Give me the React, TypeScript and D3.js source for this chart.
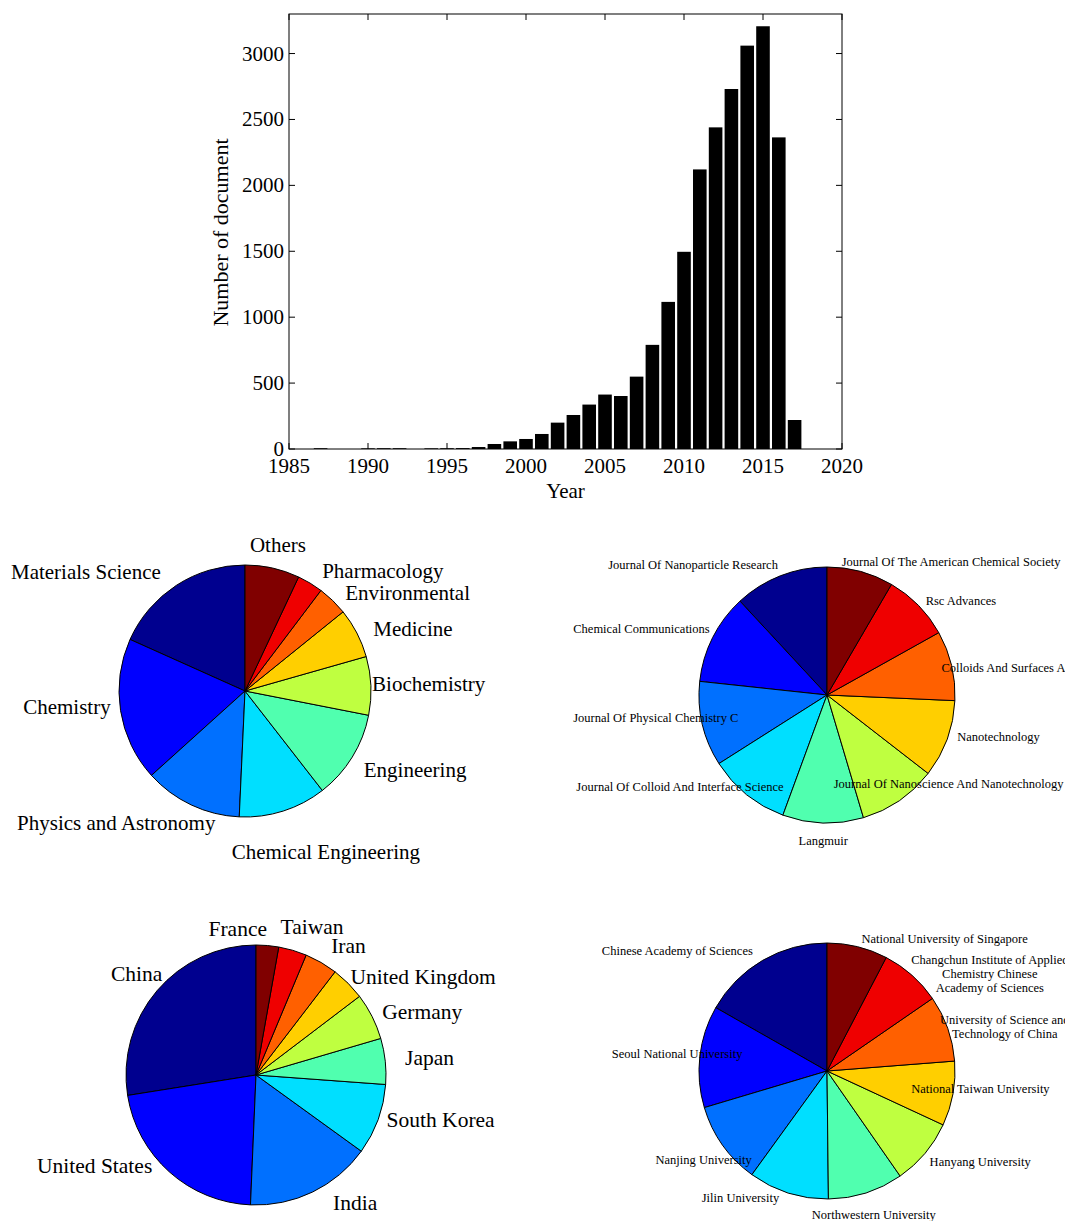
import React from "react";
import * as d3 from "d3";

// documents per year
const years = [1986, 1987, 1988, 1989, 1990, 1991, 1992, 1993, 1994, 1995, 1996, 1997, 1998, 1999, 2000, 2001,
  2002, 2003, 2004, 2005, 2006, 2007, 2008, 2009, 2010, 2011, 2012, 2013, 2014, 2015, 2016, 2017];
const docs = [0, 6, 0, 0, 5, 6, 6, 0, 5, 6, 7, 15, 38, 58, 76, 114,
  200, 258, 337, 413, 402, 549, 790, 1116, 1496, 2121, 2440, 2731, 3060, 3207, 2364, 220];
const xTicks = [1985, 1990, 1995, 2000, 2005, 2010, 2015, 2020];
const yTicks = [0, 500, 1000, 1500, 2000, 2500, 3000];

// subject areas (%)
const subjects = ["Materials Science", "Chemistry", "Physics and Astronomy", "Chemical Engineering", "Engineering",
  "Biochemistry", "Medicine", "Environmental", "Pharmacology", "Others"];
const subjectShare = [18.3, 18.4, 12.6, 11.25, 11.4, 7.5, 6.4, 3.9, 3.3, 7.0];

// journals (%)
const journals = ["Journal Of Nanoparticle Research", "Chemical Communications", "Journal Of Physical Chemistry C",
  "Journal Of Colloid And Interface Science", "Langmuir", "Journal Of Nanoscience And Nanotechnology",
  "Nanotechnology", "Colloids And Surfaces A", "Rsc Advances", "Journal Of The American Chemical Society"];
const journalShare = [11.9, 11.4, 10.7, 10.4, 10.2, 9.9, 9.8, 8.8, 8.5, 8.4];

// countries (%)
const countries = ["China", "United States", "India", "South Korea", "Japan", "Germany", "United Kingdom",
  "Iran", "Taiwan", "France"];
const countryShare = [27.5, 21.8, 15.7, 8.8, 5.7, 5.8, 4.25, 4.1, 3.5, 2.8];

// institutions (%)
const institutions = ["Chinese Academy of Sciences", "Seoul National University", "Nanjing University",
  "Jilin University", "Northwestern University", "Hanyang University", "National Taiwan University",
  "University of Science and\nTechnology of China", "Changchun Institute of Applied\nChemistry Chinese\nAcademy of Sciences",
  "National University of Singapore"];
const institutionShare = [16.75, 12.85, 10.4, 10.15, 9.5, 8.4, 8.15, 8.35, 7.75, 7.65];

const jet = ["#00008f", "#0000ff", "#0070ff", "#00dfff", "#50ffaf", "#bfff40", "#ffcf00", "#ff6000", "#ef0000", "#800000"];

const FONT = "'Liberation Serif', 'Times New Roman', serif";

// hand placement tweaks for pie labels (like dragged labels in the original)
const nudges1: Record<string, [number, number]> = {
  "Others": [0, 2], "Pharmacology": [-1, 9], "Environmental": [-5, 11], "Medicine": [-6, 8],
  "Biochemistry": [-24, -1], "Engineering": [-10, 0], "Chemical Engineering": [35, 17],
  "Physics and Astronomy": [35, -5], "Chemistry": [15, -8], "Materials Science": [-2, 8],
};
const nudges2: Record<string, [number, number]> = {
  "Journal Of The American Chemical Society": [84, 15], "Rsc Advances": [-11, 14], "Colloids And Surfaces A": [-35, 8],
  "Nanotechnology": [-14, -11], "Journal Of Nanoscience And Nanotechnology": [-80, -38], "Langmuir": [1, -8],
  "Journal Of Colloid And Interface Science": [53, -28], "Journal Of Physical Chemistry C": [61, -12],
  "Chemical Communications": [20, 3], "Journal Of Nanoparticle Research": [7, 13],
};
const nudges3: Record<string, [number, number]> = {
  "France": [-32, 9], "Taiwan": [12, 2], "Iran": [-3, 6], "United Kingdom": [-16, 12], "Germany": [-13, 7],
  "Japan": [-6, 0], "South Korea": [-16, -8], "India": [9, -12], "United States": [0, -25], "China": [25, 0],
};
const nudges4: Record<string, [number, number]> = {
  "National University of Singapore": [81, 17], "Changchun Institute of Applied": [61, 18],
  "University of Science and": [33, 7], "National Taiwan University": [-67, -9], "Hanyang University": [-15, -8],
  "Northwestern University": [0, -2], "Jilin University": [-40, -19], "Nanjing University": [50, 0],
  "Seoul National University": [68, 0], "Chinese Academy of Sciences": [3, 13],
};

function BarChart() {
  const left = 289, right = 842, top = 14, bottom = 449;
  const x = d3.scaleLinear().domain([1985, 2020]).range([left, right]);
  const y = d3.scaleLinear().domain([0, 3300]).range([bottom, top]);
  const bw = (x(1986) - x(1985)) * 0.86;
  const tk = 6;
  const fs = 21;
  return (
    <g fontFamily={FONT}>
      {years.map((yr, i) => (
        docs[i] > 0 ? <rect key={yr} x={x(yr) - bw / 2} y={y(docs[i])} width={bw} height={bottom - y(docs[i])} fill="#000" /> : null
      ))}
      <rect x={left} y={top} width={right - left} height={bottom - top} fill="none" stroke="#000" strokeWidth={1} />
      {xTicks.map((t) => (
        <g key={"x" + t}>
          <line x1={x(t)} x2={x(t)} y1={bottom} y2={bottom - tk} stroke="#000" />
          <line x1={x(t)} x2={x(t)} y1={top} y2={top + tk} stroke="#000" />
          <text x={x(t)} y={bottom + 17} textAnchor="middle" dominantBaseline="central" fontSize={fs}>{t}</text>
        </g>
      ))}
      {yTicks.map((t) => (
        <g key={"y" + t}>
          <line x1={left} x2={left + tk} y1={y(t)} y2={y(t)} stroke="#000" />
          <line x1={right} x2={right - tk} y1={y(t)} y2={y(t)} stroke="#000" />
          <text x={left - 5} y={y(t)} textAnchor="end" dominantBaseline="central" fontSize={fs}>{t}</text>
        </g>
      ))}
      <text x={(left + right) / 2} y={491} textAnchor="middle" dominantBaseline="central" fontSize={fs}>Year</text>
      <text transform={`translate(220,${(top + bottom) / 2 + 1}) rotate(-90)`} textAnchor="middle" dominantBaseline="central" fontSize={fs + 1}>
        Number of document
      </text>
    </g>
  );
}

type PieProps = {
  cx: number; cy: number; r: number; labels: string[]; values: number[];
  nudges: Record<string, [number, number]>; fontSize: number;
};

function Pie({ cx, cy, r, labels, values, nudges, fontSize }: PieProps) {
  // MATLAB style: first slice starts at 12 o'clock, going counter-clockwise
  const arcs = d3.pie<number>().sort(null).startAngle(0).endAngle(-2 * Math.PI)(values);
  const arc = d3.arc<d3.PieArcDatum<number>>().innerRadius(0).outerRadius(r);
  const lr = 1.2 * r;
  const lh = fontSize * 1.15;
  return (
    <g transform={`translate(${cx},${cy})`} fontFamily={FONT}>
      {arcs.map((a, i) => (
        <path key={i} d={arc(a) || ""} fill={jet[i]} stroke="#000" strokeWidth={1} />
      ))}
      {arcs.map((a, i) => {
        const mid = (a.startAngle + a.endAngle) / 2;
        const s = Math.sin(mid), c = Math.cos(mid);
        const lines = labels[i].split("\n");
        let anchor = "middle";
        if (lines.length === 1) anchor = s > 0.31 ? "start" : s < -0.31 ? "end" : "middle";
        const n = nudges[lines[0]] || [0, 0];
        const px = lr * s + n[0];
        const py = -lr * c + n[1] - ((lines.length - 1) * lh) / 2;
        return (
          <text key={"t" + i} x={px} y={py} textAnchor={anchor} dominantBaseline="central" fontSize={fontSize}>
            {lines.map((ln, j) => (
              <tspan key={j} x={px} dy={j === 0 ? 0 : lh}>{ln}</tspan>
            ))}
          </text>
        );
      })}
    </g>
  );
}

export default function App() {
  return (
    <svg width={1065} height={1221} style={{ position: "absolute", left: 0, top: 0, background: "#fff" }}>
      <rect width={1065} height={1221} fill="#fff" />
      <BarChart />
      <Pie cx={245} cy={691} r={126} labels={subjects} values={subjectShare} nudges={nudges1} fontSize={21} />
      <Pie cx={827} cy={695} r={128} labels={journals} values={journalShare} nudges={nudges2} fontSize={12.5} />
      <Pie cx={256} cy={1075} r={130} labels={countries} values={countryShare} nudges={nudges3} fontSize={21.5} />
      <Pie cx={827} cy={1071} r={128} labels={institutions} values={institutionShare} nudges={nudges4} fontSize={12.5} />
    </svg>
  );
}
